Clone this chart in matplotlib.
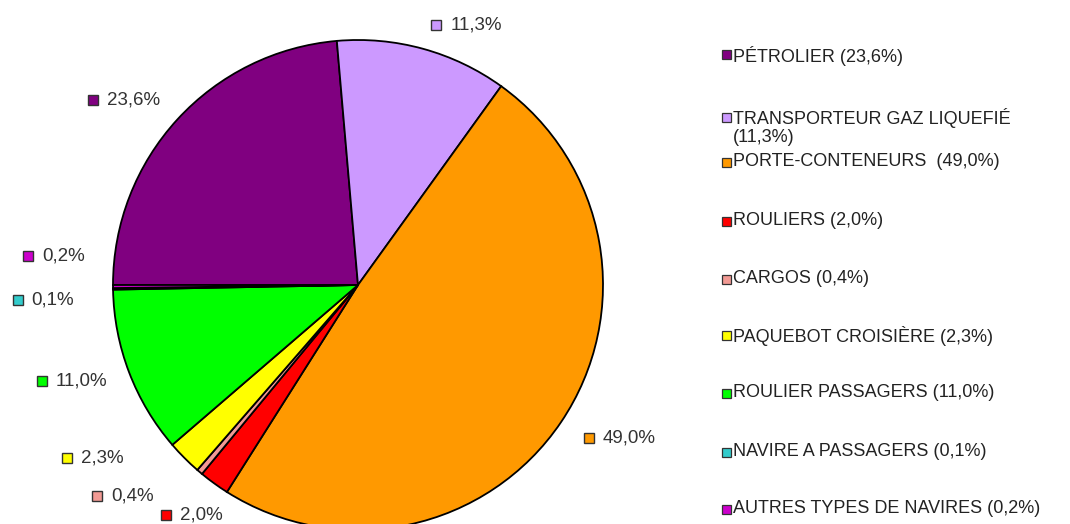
import numpy as np
import matplotlib.pyplot as plt
from matplotlib.patches import Rectangle

plt.rcParams['font.family'] = ['Liberation Sans', 'DejaVu Sans']

# ship types and their share of the traffic (%)
categories = [
    "PÉTROLIER",
    "TRANSPORTEUR GAZ LIQUEFIÉ",
    "PORTE-CONTENEURS",
    "ROULIERS",
    "CARGOS",
    "PAQUEBOT CROISIÈRE",
    "ROULIER PASSAGERS",
    "NAVIRE A PASSAGERS",
    "AUTRES TYPES DE NAVIRES",
]
shares = [23.6, 11.3, 49.0, 2.0, 0.4, 2.3, 11.0, 0.1, 0.2]
legend_labels = [
    "PÉTROLIER (23,6%)",
    "TRANSPORTEUR GAZ LIQUEFIÉ\n(11,3%)",
    "PORTE-CONTENEURS  (49,0%)",
    "ROULIERS (2,0%)",
    "CARGOS (0,4%)",
    "PAQUEBOT CROISIÈRE (2,3%)",
    "ROULIER PASSAGERS (11,0%)",
    "NAVIRE A PASSAGERS (0,1%)",
    "AUTRES TYPES DE NAVIRES (0,2%)",
]

colors = ["#800080", "#cc99ff", "#ff9900", "#ff0000", "#f29a94",
          "#ffff00", "#00ff00", "#33cccc", "#cc00cc"]

# label placement: angular shift (deg) from wedge middle, and radius
label_shift = [7.6, -1.4, 0.5, -4.0, -10.8, -14.1, -4.1, 1.7, -5.4]
label_radius = [1.319, 1.108, 1.129, 1.223, 1.369, 1.382, 1.349, 1.390, 1.351]

# legend rows, pixels from the top of the figure
legend_rows = [55, 117, 162, 221, 279, 335, 393, 452, 509]

W, H = 1070, 524
cx, cy, R = 358, 285, 245

fig = plt.figure(figsize=(W / 100, H / 100), dpi=100)
ax = fig.add_axes([0, 0, 1, 1])

wedges, _ = ax.pie(shares, colors=colors, startangle=180, counterclock=False,
                   wedgeprops=dict(edgecolor="black", linewidth=1.3))
ax.set_aspect("equal")
ax.set_xlim(-cx / R, (W - cx) / R)
ax.set_ylim(-(H - cy) / R, cy / R)
ax.axis("off")

# value labels with a small colour square in front
for w, v, d, r, c in zip(wedges, shares, label_shift, label_radius, colors):
    mid = np.deg2rad((w.theta1 + w.theta2) / 2 + d)
    x, y = r * np.cos(mid), r * np.sin(mid)
    ax.plot(x, y, marker="s", ms=7, mfc=c, mec="#333333", mew=1.0, clip_on=False)
    ax.annotate(f"{v:.1f}%".replace(".", ","), (x, y), xytext=(10, 0),
                textcoords="offset points", va="center", ha="left",
                fontsize=13.5, color="#333333")

# legend
for lab, c, yp in zip(legend_labels, colors, legend_rows):
    yf = 1 - yp / H
    fig.patches.append(Rectangle((722 / W, yf - 4.5 / H), 9 / W, 9 / H,
                                 transform=fig.transFigure, facecolor=c,
                                 edgecolor="#333333", linewidth=0.9))
    fig.text(733 / W, yf + 9 / H, lab, ha="left", va="top", fontsize=13,
             color="#222222", linespacing=1.05)

fig.savefig("out.png", dpi=100)
